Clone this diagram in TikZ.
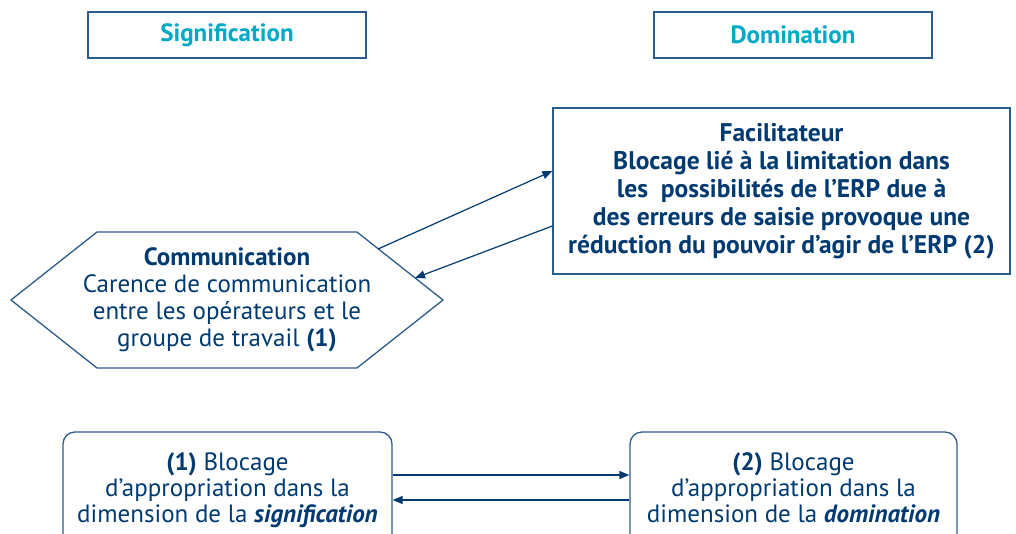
\documentclass[tikz,border=0pt]{standalone}
\usepackage{fontspec}
\setmainfont{PT Sans}
\usetikzlibrary{arrows.meta}
\definecolor{bleufonce}{HTML}{003A70}
\definecolor{bordure}{HTML}{2B5C8A}
\definecolor{cyanclair}{HTML}{00A9C6}
\tikzset{
  titre/.style={draw=bordure, line width=1.3pt, minimum width=278pt, minimum height=46pt,
    text=cyanclair, font=\fontsize{25}{28}\selectfont\bfseries},
  cadre/.style={draw=bordure, line width=1.3pt, text=bleufonce, align=center},
  fleche/.style={-{Triangle[length=10pt,width=8pt]}, bleufonce, line width=1.2pt}
}
\begin{document}
\begin{tikzpicture}[x=1pt,y=-1pt]
  \useasboundingbox (0,0) rectangle (1016,533);
  % Titres des colonnes
  \node[titre] (sig) at (227,35) {Signification};
  \node[titre] (dom) at (793,35) {Domination};

  % Facilitateur
  \node[cadre, minimum width=457pt, minimum height=166pt, inner sep=0pt,
    font=\fontsize{25.5}{28}\selectfont\bfseries] (fac) at (781.5,191)
    {Facilitateur\\Blocage lié à la limitation dans\\les~ possibilités de l’ERP due à\\des erreurs de saisie provoque une\\réduction du pouvoir d’agir de l’ERP (2)};

  % Communication (hexagone)
  \node[text=bleufonce, align=center, font=\fontsize{25}{27}\selectfont] (comm) at (227,300)
    {\textbf{Communication}\\Carence de communication\\entre les opérateurs et le\\groupe de travail \textbf{(1)}};
  \draw[bordure, line width=1.3pt] (11,300) -- (97,232) -- (357,232) -- (443,300)
    -- (357,368) -- (97,368) -- cycle;
  \coordinate (c1) at (378,249);
  \coordinate (c2) at (415,278);

  % Fleches
  \draw[fleche] (c1) -- ([yshift=20pt]fac.west);
  \draw[fleche] ([yshift=-35pt]fac.west) -- (c2);

  % Blocages
  \node[cadre, rounded corners=12pt, minimum width=329pt, minimum height=118pt,
    font=\fontsize{25}{26}\selectfont] (bsig) at (227.5,491)
    {\textbf{(1)} Blocage\\d’appropriation dans la\\dimension de la \textbf{\textit{signification}}\strut};
  \node[cadre, rounded corners=12pt, minimum width=327pt, minimum height=118pt,
    font=\fontsize{25}{26}\selectfont] (bdom) at (793.5,491)
    {\textbf{(2)} Blocage\\d’appropriation dans la\\dimension de la \textbf{\textit{domination}}\strut};
  \draw[fleche] ([yshift=16pt]bsig.east) -- ([yshift=16pt]bdom.west);
  \draw[fleche] ([yshift=-9pt]bdom.west) -- ([yshift=-9pt]bsig.east);
\end{tikzpicture}
\end{document}
